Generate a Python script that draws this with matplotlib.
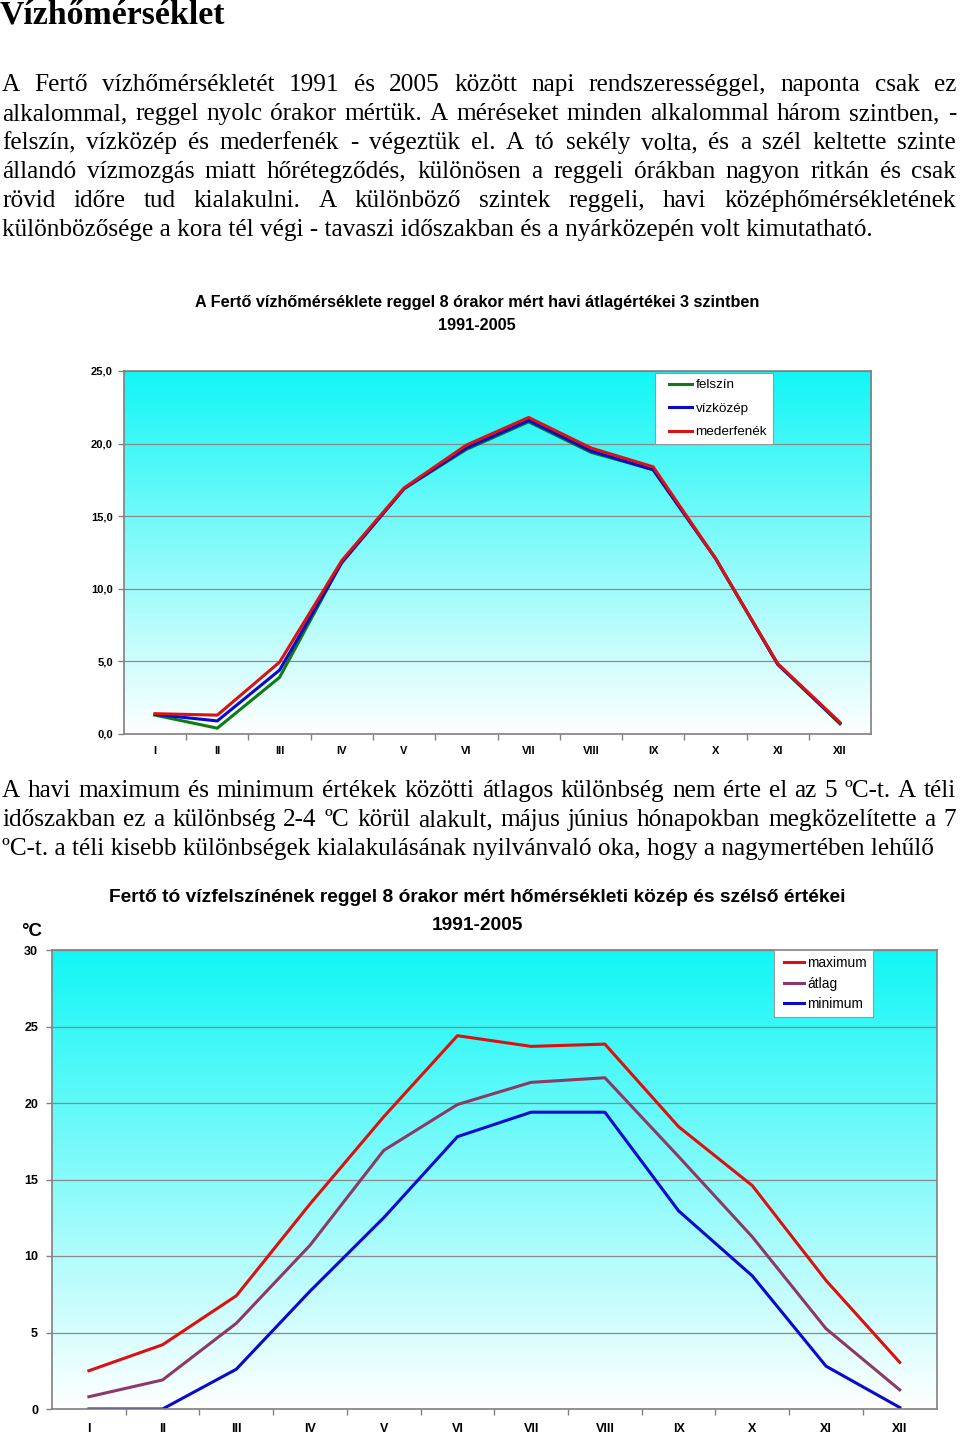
import numpy as np
import matplotlib
matplotlib.use("Agg")
import matplotlib.pyplot as plt
from matplotlib.colors import LinearSegmentedColormap
from matplotlib.lines import Line2D
from matplotlib.legend_handler import HandlerLine2D

# honapok
months = ["I", "II", "III", "IV", "V", "VI", "VII", "VIII", "IX", "X", "XI", "XII"]

# 1. abra: havi atlag 3 szintben
felszin = [1.3, 0.4, 3.9, 11.85, 16.9, 19.6, 21.5, 19.4, 18.2, 12.1, 4.8, 0.7]
vizkozep = [1.35, 0.9, 4.4, 11.8, 16.9, 19.7, 21.6, 19.5, 18.2, 12.1, 4.8, 0.75]
mederfenek = [1.4, 1.3, 4.95, 11.95, 16.95, 19.9, 21.8, 19.7, 18.4, 12.1, 4.85, 0.8]

# 2. abra: kozep es szelso ertekek
maximum = [2.5, 4.2, 7.4, 13.4, 19.1, 24.4, 23.7, 23.85, 18.45, 14.6, 8.4, 3.05]
atlag = [0.8, 1.9, 5.6, 10.7, 16.9, 19.9, 21.35, 21.65, 16.5, 11.25, 5.25, 1.25]
minimum = [0.0, 0.0, 2.6, 7.7, 12.5, 17.8, 19.4, 19.4, 12.95, 8.7, 2.8, 0.1]

title = "Vízhőmérséklet"
para1 = [
    "A Fertő vízhőmérsékletét 1991 és 2005 között napi rendszerességgel, naponta csak ez",
    "alkalommal, reggel nyolc órakor mértük. A méréseket minden alkalommal három szintben, -",
    "felszín, vízközép és mederfenék - végeztük el. A tó sekély volta, és a szél keltette szinte",
    "állandó vízmozgás miatt hőrétegződés, különösen a reggeli órákban nagyon ritkán és csak",
    "rövid időre tud kialakulni. A különböző szintek reggeli, havi középhőmérsékletének",
    "különbözősége a kora tél végi - tavaszi időszakban és a nyárközepén volt kimutatható.",
]
para2 = [
    "A havi maximum és minimum értékek közötti átlagos különbség nem érte el az 5 ºC-t. A téli",
    "időszakban ez a különbség 2-4 ºC körül alakult, május június hónapokban megközelítette a 7",
    "ºC-t. a téli kisebb különbségek kialakulásának nyilvánvaló oka, hogy a nagymertében lehűlő",
]

W, H = 960, 1434
fig = plt.figure(figsize=(9.6, 14.34), dpi=100)
fig.patch.set_facecolor("white")
renderer = fig.canvas.get_renderer()

SERIF = "Liberation Serif"
SANS = "Liberation Sans"


def px(x, y):
    return x / W, 1 - y / H


def put_line(text, x0, y, size, x1=None):
    # x1 megadva -> sorkizart sor
    if x1 is None:
        fig.text(*px(x0, y), text, family=SERIF, size=size, va="baseline", ha="left")
        return
    words = text.split(" ")
    arts = [fig.text(0, 0, w, family=SERIF, size=size, va="baseline", ha="left") for w in words]
    widths = [a.get_window_extent(renderer).width for a in arts]
    gap = (x1 - x0 - sum(widths)) / (len(words) - 1)
    x = x0
    for a, w in zip(arts, widths):
        a.set_position(px(x, y))
        x += w + gap


fig.text(*px(0, 23), title, family=SERIF, size=24.4, weight="bold", va="baseline")

body_size = 18.2
for i, line in enumerate(para1):
    last = i == len(para1) - 1
    put_line(line, 2, 91 + 29 * i, body_size, None if last else 956)

for i, line in enumerate(para2):
    last = i == len(para2) - 1
    put_line(line, 2, 797 + 29 * i, body_size, None if last else 956)

cmap = LinearSegmentedColormap.from_list("water", ["white", "#12F6F6"])
grad = np.linspace(0, 1, 256).reshape(-1, 1)
x = np.arange(len(months))


def setup_axes(ax, ymax, fmt, ylab_size, xlab_size, ypad, xpad):
    ax.imshow(grad, cmap=cmap, origin="lower", aspect="auto",
              extent=[0, 1, 0, 1], transform=ax.transAxes, zorder=-1)
    ax.set_xlim(-0.5, len(months) - 0.5)
    ax.set_ylim(0, ymax)
    ax.set_yticks(np.arange(0, ymax + 1, 5))
    ax.set_yticklabels([fmt(v) for v in np.arange(0, ymax + 1, 5)])
    ax.set_xticks(x)
    ax.set_xticklabels(months)
    ax.set_xticks(np.arange(0.5, len(months) - 1, 1), minor=True)
    ax.tick_params(axis="x", which="major", length=0, pad=xpad, labelsize=xlab_size)
    ax.tick_params(axis="x", which="minor", length=4, color="#808080", width=1)
    ax.tick_params(axis="y", length=4, color="#808080", width=1, pad=ypad, labelsize=ylab_size)
    for lab in ax.get_xticklabels() + ax.get_yticklabels():
        lab.set_fontweight("bold")
        lab.set_family(SANS)
    ax.grid(axis="y", color="#8a8a8a", lw=0.9)
    ax.set_axisbelow(True)
    for s in ax.spines.values():
        s.set_color("#808080")
        s.set_linewidth(1.2)


def add_legend(ax, anchor, size, hlen, xpad, lspace):
    leg = ax.legend(loc="upper left", bbox_to_anchor=anchor, frameon=True,
                    fancybox=False, framealpha=1, edgecolor="#9a9a9a",
                    prop={"family": SANS, "size": size}, handlelength=hlen,
                    handletextpad=0.25, labelspacing=lspace, borderpad=0.45,
                    borderaxespad=0,
                    handler_map={Line2D: HandlerLine2D(xpad=xpad)})
    leg.get_frame().set_linewidth(0.8)
    return leg


# 1. abra
ax1 = fig.add_axes([123.9 / W, 1 - 734 / H, 747.2 / W, 363 / H])
setup_axes(ax1, 25, lambda v: f"{v:.1f}".replace(".", ","), 8, 8, 4, 9)
ax1.plot(x, felszin, color="#117A11", lw=2.2, label="felszín")
ax1.plot(x, vizkozep, color="#0A0ACC", lw=2.2, label="vízközép")
ax1.plot(x, mederfenek, color="#DD1111", lw=2.2, label="mederfenék")
add_legend(ax1, (0.711, 0.995), 9.7, 2.3, 0.6, 0.82)

fig.text(0.497, 1 - 303 / H, "A Fertő vízhőmérséklete reggel 8 órakor mért havi átlagértékei 3 szintben",
         family=SANS, weight="bold", size=11.7, ha="center", va="center")
fig.text(0.497, 1 - 326 / H, "1991-2005", family=SANS, weight="bold", size=11.7,
         ha="center", va="center")

# 2. abra
ax2 = fig.add_axes([52 / W, 1 - 1409 / H, 884.6 / W, 459 / H])
setup_axes(ax2, 30, lambda v: f"{v:d}", 9, 9, 6, 10)
ax2.plot(x, maximum, color="#DD1010", lw=2.2, label="maximum")
ax2.plot(x, atlag, color="#8B3A66", lw=2.2, label="átlag")
ax2.plot(x, minimum, color="#0A0ACC", lw=2.2, label="minimum")
add_legend(ax2, (0.816, 1.0), 9.9, 1.75, 0.3, 0.46)

fig.text(0.497, 1 - 898 / H,
         "Fertő tó vízfelszínének reggel 8 órakor mért hőmérsékleti közép és szélső értékei",
         family=SANS, weight="bold", size=13.8, ha="center", va="center")
fig.text(0.497, 1 - 926 / H, "1991-2005", family=SANS, weight="bold", size=13.8,
         ha="center", va="center")
fig.text(*px(21, 931), "°C", family=SANS, weight="bold", size=13.5, va="center", ha="left")

fig.savefig("out.png", dpi=100)
